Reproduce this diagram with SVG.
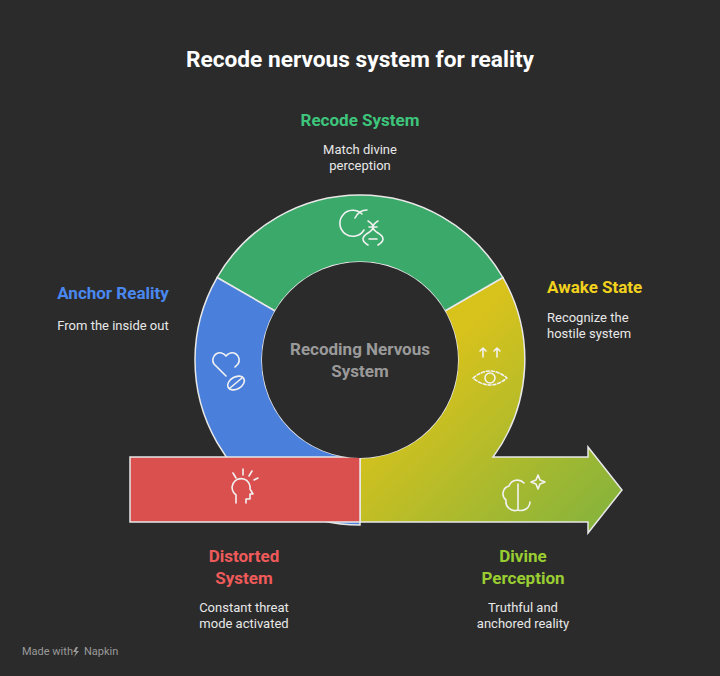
<svg xmlns="http://www.w3.org/2000/svg" width="720" height="676" viewBox="0 0 720 676">
<defs>
<linearGradient id="yg" x1="0" y1="0" x2="1" y2="1" gradientUnits="objectBoundingBox">
<stop offset="0.3" stop-color="#d8c21c"/><stop offset="1" stop-color="#80b23e"/>
</linearGradient>
<style>
.t{font-family:Roboto,"Liberation Sans",sans-serif}
.h{font-size:17px;font-weight:bold}
.d{font-size:13px;fill:#e8e8e8}
.seg{stroke:#e8e8e8;stroke-width:1.5}
.ic{fill:none;stroke:#f2f2f2;stroke-width:1.6;stroke-linecap:round;stroke-linejoin:round}
</style>
</defs>
<rect width="720" height="676" fill="#2b2b2b"/>
<text class="t" x="360" y="67" text-anchor="middle" font-size="22.7" font-weight="bold" fill="#fff">Recode nervous system for reality</text>
<g id="connectors"></g>
<g id="awake">
<path class="seg" fill="url(#yg)" d="M502.9,277.5 A165,165 0 0 1 493,457 L588,457 L588,447 L622,490 L588,533 L588,522 L360,522 L360,458 A98,98 0 0 0 444.9,311 Z"/>
<g class="ic"><path d="M483,357 v-9 m-3,3 l3,-3 l3,3 M497,357 v-9 m-3,3 l3,-3 l3,3"/><path d="M473,378 q17,-14 34,0 q-17,14 -34,0 Z" stroke-dasharray="3 2"/><circle cx="490" cy="378" r="5"/></g>
<text class="t h" x="547" y="293" fill="#f2d21c">Awake State</text>
<text class="t d" x="547" y="322">Recognize the</text>
<text class="t d" x="547" y="338">hostile system</text>
</g>
<g id="recode">
<path class="seg" fill="#3aa96a" d="M217.1,277.5 A165,165 0 0 1 502.9,277.5 L444.9,311 A98,98 0 0 0 275.1,311 Z"/>
<g class="ic"><path d="M362,214 a13,13 0 1 0 2,16"/><path d="M355,218 q4,-8 12,-8"/><path d="M368,221 q10,6 0,12 q-10,6 0,12 M378,221 q-10,6 0,12 q10,6 0,12 M369,227h8 M369,239h8"/></g>
<text class="t h" x="360" y="126" text-anchor="middle" fill="#3ec57c">Recode System</text>
<text class="t d" x="360" y="154" text-anchor="middle">Match divine</text>
<text class="t d" x="360" y="170" text-anchor="middle">perception</text>
</g>
<g id="anchor">
<path class="seg" fill="#4a80dc" d="M217.1,277.5 A165,165 0 0 0 360,525 L360,458 A98,98 0 0 1 275.1,311 Z"/>
<g class="ic"><path d="M226,376 l-12,-12 a7,7 0 0 1 12,-8 a7,7 0 0 1 12,8 l-3,3"/><ellipse cx="236" cy="383" rx="9" ry="6" transform="rotate(-30 236 383)"/><path d="M230,388 l12,-10"/></g>
<text class="t h" x="113" y="299" text-anchor="middle" fill="#4a88f0">Anchor Reality</text>
<text class="t d" x="113" y="330" text-anchor="middle">From the inside out</text>
</g>
<g id="distorted">
<rect x="130" y="457" width="230" height="65" fill="#d9504f" stroke="#e8e8e8" stroke-width="1.5"/>
<g class="ic"><path d="M236,503 v-8 a9,9 0 1 1 14,-6 l3,5 h-3 v5 h-4 v4"/><path d="M236,478 l-3,-5 M243,475 l0,-6 M249,476 l3,-5 M254,480 l4,-2"/></g>
<text class="t h" x="244" y="562" text-anchor="middle" fill="#ef5a5a">Distorted</text>
<text class="t h" x="244" y="584" text-anchor="middle" fill="#ef5a5a">System</text>
<text class="t d" x="244" y="612" text-anchor="middle">Constant threat</text>
<text class="t d" x="244" y="628" text-anchor="middle">mode activated</text>
</g>
<g id="divine">
<g class="ic"><path d="M518,510 a9,9 0 0 1 -12,-10 a8,8 0 0 1 3,-14 a9,9 0 0 1 15,-3 M518,510 v-26 M518,510 a9,9 0 0 0 12,-8"/><path d="M538,475 l2,5 l5,2 l-5,2 l-2,5 l-2,-5 l-5,-2 l5,-2 Z"/></g>
<text class="t h" x="523" y="562" text-anchor="middle" fill="#9acd32">Divine</text>
<text class="t h" x="523" y="584" text-anchor="middle" fill="#9acd32">Perception</text>
<text class="t d" x="523" y="612" text-anchor="middle">Truthful and</text>
<text class="t d" x="523" y="628" text-anchor="middle">anchored reality</text>
</g>
<g id="center">
<circle cx="360" cy="360" r="98" fill="#2b2b2b"/>
<text class="t" x="360" y="355" text-anchor="middle" font-size="17" font-weight="bold" fill="#9a9a9a">Recoding Nervous</text>
<text class="t" x="360" y="377" text-anchor="middle" font-size="17" font-weight="bold" fill="#9a9a9a">System</text>
</g>
<text class="t" x="22" y="655" font-size="11" fill="#9a9a9a">Made with</text>
<path d="M76,647 l-3,5 h3 l-2,5 l5,-6 h-3 l2,-4 Z" fill="#9a9a9a"/>
<text class="t" x="84" y="655" font-size="11" fill="#9a9a9a">Napkin</text>
</svg>
